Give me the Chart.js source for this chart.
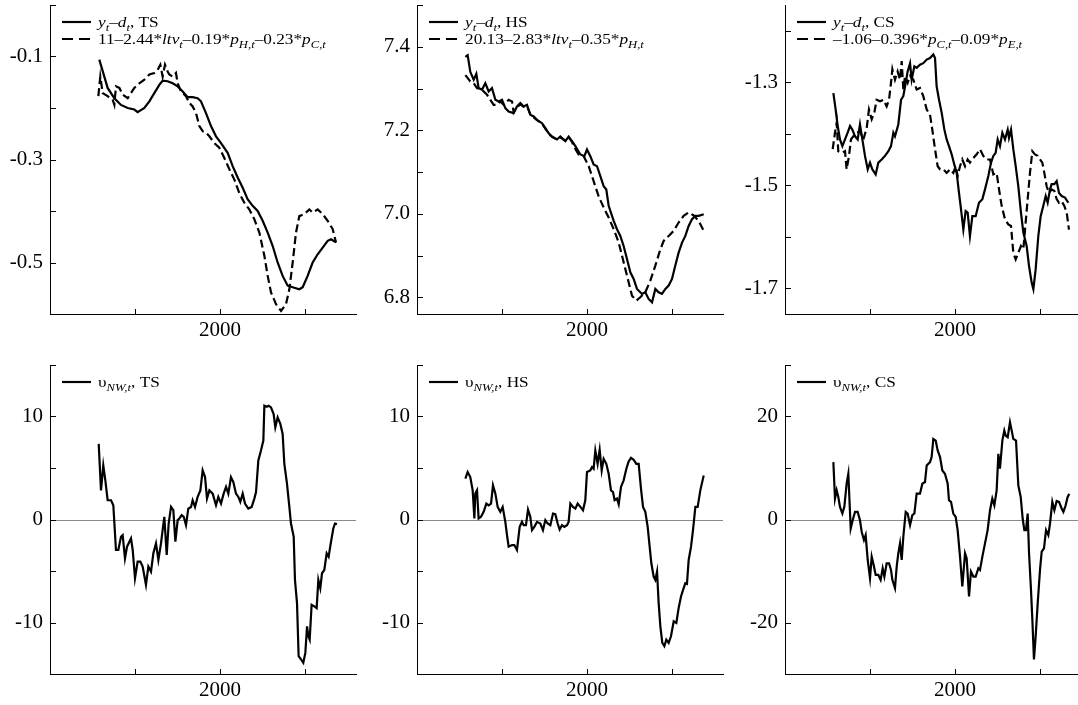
<!DOCTYPE html>
<html><head><meta charset="utf-8">
<script src="https://cdn.jsdelivr.net/npm/chart.js@4.4.1/dist/chart.umd.min.js"></script>
<style>
html,body{margin:0;padding:0;background:#fff;overflow:hidden;width:1078px;height:705px;position:relative;}
.panel{position:absolute;width:358px;height:354px;}
</style></head><body>
<div class="panel" style="left:0px;top:0px"><canvas id="c0"></canvas></div>
<div class="panel" style="left:367px;top:0px"><canvas id="c1"></canvas></div>
<div class="panel" style="left:735px;top:0px"><canvas id="c2"></canvas></div>
<div class="panel" style="left:0px;top:360px"><canvas id="c3"></canvas></div>
<div class="panel" style="left:367px;top:360px"><canvas id="c4"></canvas></div>
<div class="panel" style="left:735px;top:360px"><canvas id="c5"></canvas></div>
<script>
// ---------- x axis ----------
const xTickValues = [1990, 2000, 2010];
const xTickLabels = ['2000'];

// ---------- TS: y-d and fitted ----------
const tsActualYears = [1985.80,1986.39,1986.78,1987.57,1988.35,1989.14,1989.92,1990.31,1991.10,1991.69,1992.27,1992.86,1993.25,1993.84,1994.43,1995.02,1995.61,1996.20,1996.78,1997.37,1997.76,1998.35,1998.94,1999.53,2000.12,2000.90,2001.49,2002.08,2002.67,2003.25,2003.84,2004.43,2005.02,2005.61,2006.20,2006.78,2007.37,2007.96,2008.55,2009.33,2009.73,2010.31,2010.90,2011.49,2012.08,2012.67,2013.06,2013.65];
const tsActual = [-0.106,-0.139,-0.161,-0.181,-0.194,-0.200,-0.203,-0.208,-0.200,-0.187,-0.171,-0.155,-0.147,-0.148,-0.152,-0.158,-0.168,-0.179,-0.179,-0.181,-0.187,-0.210,-0.235,-0.255,-0.268,-0.287,-0.313,-0.335,-0.355,-0.377,-0.390,-0.400,-0.419,-0.442,-0.468,-0.500,-0.526,-0.545,-0.548,-0.552,-0.548,-0.526,-0.500,-0.484,-0.471,-0.458,-0.455,-0.461];
const tsFitYears = [1985.69,1985.80,1985.92,1986.20,1986.78,1987.37,1987.57,1987.76,1988.16,1988.55,1989.14,1989.53,1989.92,1990.51,1991.10,1991.69,1992.27,1992.67,1992.98,1993.25,1993.53,1993.84,1994.04,1994.43,1994.82,1995.02,1995.41,1996.00,1996.39,1996.78,1997.18,1997.57,1997.96,1998.35,1998.75,1999.33,1999.92,2000.51,2001.10,2001.69,2002.27,2002.86,2003.45,2004.04,2004.63,2005.22,2005.61,2006.00,2006.59,2007.18,2007.76,2008.16,2008.55,2008.94,2009.33,2009.92,2010.51,2010.90,2011.49,2012.08,2012.67,2013.25,2013.65];
const tsFit = [-0.177,-0.158,-0.139,-0.171,-0.177,-0.184,-0.194,-0.158,-0.161,-0.174,-0.181,-0.171,-0.161,-0.152,-0.145,-0.135,-0.132,-0.126,-0.116,-0.139,-0.116,-0.129,-0.135,-0.139,-0.132,-0.152,-0.168,-0.177,-0.190,-0.197,-0.210,-0.235,-0.245,-0.248,-0.255,-0.268,-0.277,-0.297,-0.319,-0.339,-0.365,-0.384,-0.397,-0.416,-0.442,-0.487,-0.526,-0.558,-0.581,-0.594,-0.581,-0.552,-0.500,-0.442,-0.410,-0.406,-0.397,-0.403,-0.397,-0.406,-0.419,-0.435,-0.461];

// ---------- HS ----------
const hsActualYears = [1985.69,1985.96,1986.27,1986.67,1986.98,1987.25,1987.65,1988.04,1988.43,1988.82,1989.22,1989.61,1990.00,1990.39,1990.78,1991.37,1991.76,1992.16,1992.55,1992.94,1993.33,1993.73,1994.12,1994.71,1995.10,1995.49,1995.88,1996.47,1996.86,1997.45,1997.84,1998.24,1998.63,1999.22,1999.69,2000.00,2000.39,2000.78,2001.18,2001.57,2001.96,2002.27,2002.55,2003.14,2003.53,2003.92,2004.31,2004.71,2005.10,2005.49,2005.88,2006.47,2006.86,2007.25,2007.65,2008.04,2008.43,2008.82,2009.22,2009.61,2010.00,2010.39,2010.78,2011.18,2011.57,2011.96,2012.35,2012.75,2013.14,2013.73];
const hsActual = [7.376,7.380,7.340,7.321,7.335,7.301,7.297,7.313,7.293,7.301,7.273,7.269,7.273,7.253,7.245,7.241,7.257,7.265,7.257,7.261,7.237,7.233,7.225,7.217,7.205,7.193,7.185,7.178,7.185,7.174,7.185,7.174,7.162,7.142,7.138,7.154,7.138,7.118,7.114,7.090,7.066,7.058,7.019,6.983,6.963,6.947,6.923,6.891,6.860,6.844,6.820,6.808,6.812,6.796,6.788,6.820,6.812,6.808,6.820,6.828,6.844,6.876,6.907,6.931,6.947,6.971,6.987,6.995,6.995,6.999];
const hsFitYears = [1985.69,1986.27,1986.67,1987.06,1987.65,1988.24,1988.63,1989.02,1989.41,1989.80,1990.20,1990.78,1991.18,1991.37,1991.76,1992.16,1992.55,1992.94,1993.33,1993.73,1994.12,1994.71,1995.10,1995.49,1995.88,1996.47,1996.86,1997.45,1997.84,1998.24,1998.43,1999.02,1999.61,2000.20,2000.78,2001.37,2001.96,2002.55,2003.14,2003.73,2004.31,2004.90,2005.29,2005.80,2006.27,2006.86,2007.45,2008.04,2008.63,2009.02,2009.61,2010.20,2010.78,2011.37,2011.96,2012.55,2013.14,2013.73];
const hsFit = [7.332,7.317,7.313,7.301,7.297,7.285,7.273,7.261,7.261,7.269,7.261,7.273,7.269,7.243,7.255,7.262,7.256,7.258,7.238,7.231,7.224,7.216,7.204,7.192,7.184,7.178,7.183,7.175,7.183,7.172,7.162,7.142,7.138,7.114,7.078,7.042,7.015,6.991,6.963,6.931,6.884,6.836,6.804,6.792,6.800,6.812,6.840,6.876,6.915,6.935,6.947,6.959,6.979,6.995,7.003,6.996,6.983,6.959];

// ---------- CS ----------
const csActualYears = [1985.69,1985.96,1986.20,1986.47,1986.75,1987.06,1987.37,1987.65,1987.92,1988.24,1988.55,1988.82,1989.10,1989.41,1989.73,1990.00,1990.27,1990.67,1990.98,1991.37,1991.76,1992.16,1992.47,1992.75,1992.94,1993.33,1993.65,1993.92,1994.20,1994.43,1994.71,1994.90,1995.22,1995.49,1995.88,1996.27,1996.67,1997.06,1997.45,1997.65,1997.84,1998.12,1998.43,1998.75,1999.02,1999.29,1999.61,1999.92,2000.20,2000.47,2000.71,2000.98,2001.25,2001.49,2001.76,2002.04,2002.43,2002.82,2003.22,2003.53,2003.92,2004.24,2004.51,2004.78,2005.02,2005.29,2005.57,2005.88,2006.20,2006.35,2006.59,2006.86,2007.14,2007.45,2007.76,2008.04,2008.43,2008.71,2009.02,2009.22,2009.49,2009.80,2010.08,2010.39,2010.67,2010.90,2011.18,2011.37,2011.69,2011.96,2012.24,2012.55,2012.94,2013.33];
const csActual = [-1.321,-1.353,-1.385,-1.411,-1.424,-1.411,-1.398,-1.385,-1.392,-1.405,-1.411,-1.382,-1.411,-1.443,-1.469,-1.456,-1.469,-1.479,-1.456,-1.450,-1.443,-1.434,-1.424,-1.398,-1.405,-1.382,-1.334,-1.327,-1.301,-1.279,-1.263,-1.295,-1.269,-1.272,-1.266,-1.263,-1.256,-1.253,-1.246,-1.253,-1.308,-1.334,-1.359,-1.392,-1.411,-1.424,-1.440,-1.460,-1.476,-1.515,-1.547,-1.586,-1.550,-1.553,-1.599,-1.560,-1.560,-1.534,-1.527,-1.508,-1.482,-1.456,-1.443,-1.437,-1.411,-1.424,-1.398,-1.411,-1.392,-1.408,-1.392,-1.430,-1.463,-1.502,-1.553,-1.592,-1.618,-1.657,-1.689,-1.702,-1.663,-1.599,-1.560,-1.540,-1.521,-1.534,-1.508,-1.498,-1.498,-1.492,-1.515,-1.521,-1.524,-1.534];
const csFitYears = [1985.61,1985.88,1986.08,1986.27,1986.67,1987.06,1987.25,1987.53,1987.76,1988.04,1988.43,1988.82,1989.22,1989.61,1989.88,1990.20,1990.51,1990.78,1991.18,1991.57,1991.96,1992.24,1992.47,1992.63,1992.94,1993.25,1993.53,1993.73,1993.92,1994.12,1994.43,1994.71,1995.10,1995.49,1995.88,1996.27,1996.67,1997.06,1997.33,1997.65,1997.96,1998.24,1998.63,1999.02,1999.41,1999.80,2000.08,2000.31,2000.59,2000.86,2001.18,2001.49,2001.76,2002.16,2002.55,2002.94,2003.33,2003.73,2004.12,2004.51,2004.90,2005.18,2005.49,2005.88,2006.27,2006.59,2006.86,2007.14,2007.45,2007.76,2008.04,2008.24,2008.55,2008.82,2009.10,2009.41,2009.73,2010.00,2010.27,2010.51,2010.78,2011.06,2011.37,2011.69,2011.96,2012.24,2012.55,2012.86,2013.14,2013.41];
const csFit = [-1.430,-1.398,-1.379,-1.434,-1.437,-1.434,-1.469,-1.443,-1.411,-1.405,-1.398,-1.395,-1.411,-1.389,-1.353,-1.372,-1.359,-1.334,-1.337,-1.334,-1.347,-1.334,-1.301,-1.275,-1.295,-1.279,-1.295,-1.259,-1.314,-1.288,-1.301,-1.288,-1.295,-1.314,-1.311,-1.327,-1.353,-1.363,-1.392,-1.430,-1.463,-1.469,-1.469,-1.476,-1.469,-1.476,-1.463,-1.482,-1.463,-1.450,-1.463,-1.450,-1.456,-1.447,-1.440,-1.430,-1.443,-1.450,-1.450,-1.479,-1.476,-1.508,-1.540,-1.566,-1.576,-1.579,-1.631,-1.644,-1.631,-1.618,-1.624,-1.586,-1.527,-1.476,-1.434,-1.440,-1.443,-1.450,-1.456,-1.476,-1.502,-1.515,-1.508,-1.511,-1.527,-1.534,-1.531,-1.540,-1.553,-1.586];

// ---------- NW deviations ----------
const tsNWYears = [1985.73,1986.00,1986.27,1986.51,1986.78,1987.18,1987.45,1987.76,1988.04,1988.35,1988.55,1988.82,1989.06,1989.53,1989.73,1990.00,1990.31,1990.63,1990.90,1991.29,1991.57,1991.88,1992.16,1992.47,1992.75,1993.06,1993.25,1993.45,1993.73,1993.96,1994.24,1994.51,1994.75,1995.02,1995.22,1995.49,1995.73,1996.00,1996.27,1996.59,1996.78,1997.06,1997.37,1997.69,1997.96,1998.24,1998.47,1998.75,1999.14,1999.53,1999.80,2000.12,2000.43,2000.71,2000.98,2001.29,2001.57,2001.88,2002.16,2002.39,2002.67,2002.94,2003.33,2003.73,2004.04,2004.24,2004.51,2004.82,2005.10,2005.22,2005.49,2005.73,2006.00,2006.31,2006.51,2006.78,2007.10,2007.37,2007.57,2007.88,2008.16,2008.35,2008.67,2008.82,2009.06,2009.25,2009.53,2009.80,2010.04,2010.24,2010.39,2010.55,2010.78,2011.10,2011.37,2011.57,2011.80,2012.00,2012.27,2012.55,2012.78,2013.06,2013.33,2013.53,2013.76];
const tsNW = [7.34,2.83,5.25,3.80,1.87,1.87,1.38,-2.96,-2.96,-1.67,-1.51,-3.77,-2.64,-1.84,-2.96,-5.70,-4.09,-4.09,-4.57,-6.34,-4.57,-5.06,-3.28,-2.32,-3.93,-2.32,-1.03,0.26,-3.45,-0.39,1.22,0.90,-2.16,-0.06,0.10,0.42,0.26,-0.55,1.06,1.22,1.87,1.22,2.19,2.83,4.77,4.12,2.03,2.83,2.51,1.38,2.19,1.55,2.51,3.16,2.51,4.12,3.64,2.51,2.19,1.71,2.51,1.55,1.06,1.22,2.03,2.67,5.73,6.70,7.67,11.05,10.95,11.05,10.88,10.24,8.95,9.92,9.28,8.31,5.41,3.48,1.22,-0.39,-1.67,-5.86,-8.12,-13.27,-13.59,-13.91,-12.95,-10.37,-11.30,-11.66,-8.28,-8.44,-8.60,-5.86,-6.67,-5.22,-4.90,-3.28,-3.61,-2.16,-0.87,-0.39,-0.45];
const hsNWYears = [1985.69,1985.96,1986.27,1986.55,1986.75,1986.86,1987.06,1987.25,1987.53,1987.84,1988.16,1988.43,1988.71,1988.94,1989.22,1989.49,1989.80,1990.08,1990.39,1990.59,1990.78,1991.18,1991.45,1991.76,1992.08,1992.35,1992.55,1992.82,1993.06,1993.33,1993.53,1993.80,1994.12,1994.51,1994.82,1995.10,1995.37,1995.69,1996.00,1996.27,1996.55,1996.78,1997.06,1997.33,1997.65,1997.84,1998.04,1998.35,1998.63,1998.90,1999.22,1999.53,1999.80,2000.00,2000.39,2000.59,2000.78,2000.98,2001.25,2001.49,2001.73,2001.96,2002.27,2002.55,2002.82,2003.06,2003.25,2003.53,2003.73,2004.00,2004.31,2004.63,2004.90,2005.18,2005.49,2005.80,2006.08,2006.35,2006.59,2006.86,2007.14,2007.37,2007.57,2007.84,2008.04,2008.24,2008.43,2008.63,2008.86,2009.10,2009.33,2009.61,2009.88,2010.20,2010.51,2010.78,2011.06,2011.37,2011.57,2011.76,2011.96,2012.24,2012.47,2012.75,2013.02,2013.33,2013.73];
const hsNW = [3.96,4.61,4.12,2.83,0.10,2.51,2.83,0.10,0.26,0.74,1.55,1.38,1.55,3.32,2.51,1.22,0.74,1.22,-0.23,-1.51,-2.64,-2.48,-2.48,-2.96,-0.71,-0.23,-0.55,-0.55,0.97,0.26,-1.03,-0.71,-0.23,-0.39,-1.03,-0.06,-0.39,-0.55,0.58,0.52,-0.39,-0.97,-0.55,-0.71,-0.55,-0.23,1.55,1.22,1.06,1.55,1.22,0.90,1.87,4.61,4.77,5.09,4.93,6.70,5.41,6.76,4.77,5.89,5.41,4.44,2.83,2.67,1.87,2.03,1.48,3.16,3.80,4.93,5.64,5.99,5.80,5.41,5.41,3.00,1.22,0.74,-0.71,-2.64,-4.25,-5.54,-5.86,-5.06,-8.12,-10.37,-11.98,-12.30,-11.66,-11.98,-11.34,-9.89,-10.05,-8.60,-7.47,-6.67,-6.18,-6.25,-3.93,-2.64,-1.03,1.22,1.22,2.83,4.28];
const csNWYears = [1985.69,1985.88,1986.08,1986.27,1986.47,1986.75,1986.98,1987.25,1987.45,1987.73,1987.96,1988.24,1988.55,1988.82,1989.02,1989.29,1989.49,1989.73,1990.00,1990.20,1990.43,1990.67,1990.98,1991.25,1991.49,1991.69,1991.96,1992.24,1992.47,1992.63,1992.94,1993.14,1993.33,1993.53,1993.73,1993.92,1994.20,1994.43,1994.71,1994.98,1995.22,1995.49,1995.88,1996.16,1996.47,1996.67,1997.06,1997.25,1997.45,1997.73,1997.96,1998.24,1998.51,1998.82,1999.14,1999.29,1999.53,1999.80,2000.08,2000.31,2000.59,2000.86,2001.18,2001.37,2001.65,2001.88,2002.16,2002.43,2002.75,2002.94,2003.22,2003.53,2003.84,2004.12,2004.39,2004.63,2004.90,2005.10,2005.29,2005.57,2005.80,2005.96,2006.20,2006.47,2006.67,2006.86,2007.18,2007.45,2007.73,2007.96,2008.16,2008.35,2008.55,2008.71,2008.94,2009.10,2009.29,2009.49,2009.73,2010.00,2010.20,2010.47,2010.71,2010.98,2011.18,2011.45,2011.69,2011.96,2012.24,2012.55,2012.75,2013.02,2013.25,2013.45];
const csNW = [11.14,4.06,5.67,4.38,2.45,1.16,2.45,6.96,8.89,-1.74,-0.13,1.48,1.48,-0.13,-2.38,-3.99,-3.03,-7.86,-11.40,-7.21,-8.82,-10.76,-10.76,-11.72,-9.47,-11.08,-8.50,-8.50,-9.79,-11.72,-13.33,-9.15,-6.57,-4.64,-7.86,-3.35,1.48,1.16,-1.10,0.84,1.16,5.02,5.02,6.96,7.28,10.50,11.14,12.11,15.65,15.33,13.40,12.11,9.53,8.89,6.96,3.74,3.42,1.16,0.52,-2.06,-7.21,-13.01,-6.57,-7.54,-14.94,-10.11,-11.08,-11.08,-9.47,-9.79,-7.21,-4.64,-2.06,1.80,4.06,2.77,5.67,12.75,9.86,15.33,17.26,16.30,15.97,18.87,17.26,15.65,15.33,6.63,4.38,0.19,-2.06,-2.06,1.16,-6.57,-13.66,-19.45,-27.18,-22.67,-16.23,-9.79,-6.25,-5.60,-2.06,-3.03,-0.77,3.41,1.80,3.61,3.41,2.13,1.48,2.77,4.38,5.02];

// ---------- y ticks ----------
const tsTickValues = [-0.6,-0.5,-0.4,-0.3,-0.2,-0.1,0.0];
const tsTickLabels = ['-0.5','-0.3','-0.1'];
const hsTickValues = [6.8,6.9,7.0,7.1,7.2,7.3,7.4,7.5];
const hsTickLabels = ['6.8','7.0','7.2','7.4'];
const csTickValues = [-1.7,-1.6,-1.5,-1.4,-1.3,-1.2];
const csTickLabels = ['-1.7','-1.5','-1.3'];
const nwTickValues = [-15,-10,-5,0,5,10,15];
const nwTickLabels = ['-10','0','10'];
const csNWTickValues = [-30,-20,-10,0,10,20,30];
const csNWTickLabels = ['-20','0','20'];

// ---------- legend texts ----------
const tsLegend = ['{y}_{t}–{d}_{t}, TS', '11–2.44*{ltv}_{t}–0.19*{p}_{H,t}–0.23*{p}_{C,t}'];
const hsLegend = ['{y}_{t}–{d}_{t}, HS', '20.13–2.83*{ltv}_{t}–0.35*{p}_{H,t}'];
const csLegend = ['{y}_{t}–{d}_{t}, CS', '–1.06–0.396*{p}_{C,t}–0.09*{p}_{E,t}'];
const tsNWLegend = ['υ_{NW,t}, TS'];
const hsNWLegend = ['υ_{NW,t}, HS'];
const csNWLegend = ['υ_{NW,t}, CS'];

const SERIF = '"Liberation Serif", "Times New Roman", serif';

function drawRich(ctx, text, x, y, sx) {
  const re = /_\{([^}]*)\}|\{([^}]*)\}|([^_{]+)/g;
  ctx.save();
  ctx.translate(x, y);
  ctx.scale(sx, 1);
  ctx.fillStyle = '#000';
  ctx.textBaseline = 'alphabetic';
  ctx.textAlign = 'left';
  let cx = 0, m;
  while ((m = re.exec(text))) {
    let s, dy = 0;
    if (m[1] !== undefined) { s = m[1]; ctx.font = 'italic 11px ' + SERIF; dy = 4; }
    else if (m[2] !== undefined) { s = m[2]; ctx.font = 'italic 15px ' + SERIF; }
    else { s = m[3]; ctx.font = '15px ' + SERIF; }
    ctx.fillText(s, cx, dy);
    cx += ctx.measureText(s).width;
  }
  ctx.restore();
}

const decor = {
  id: 'decor',
  beforeDatasetsDraw(chart, args, o) {
    if (!o.zeroLine) return;
    const ctx = chart.ctx, a = chart.chartArea;
    const yy = Math.round(chart.scales.y.getPixelForValue(0)) + 0.5;
    ctx.save();
    ctx.strokeStyle = '#8a8a8a';
    ctx.lineWidth = 1;
    ctx.beginPath(); ctx.moveTo(a.left, yy); ctx.lineTo(a.right, yy); ctx.stroke();
    ctx.restore();
  },
  afterDraw(chart, args, o) {
    const ctx = chart.ctx, a = chart.chartArea, xs = chart.scales.x, ys = chart.scales.y;
    ctx.save();
    ctx.strokeStyle = '#000';
    ctx.lineWidth = 1;
    ctx.beginPath();
    ys.ticks.forEach(t => {
      const p = Math.round(ys.getPixelForValue(t.value)) + 0.5;
      ctx.moveTo(a.left, p); ctx.lineTo(a.left + 6, p);
    });
    xs.ticks.forEach(t => {
      const p = Math.round(xs.getPixelForValue(t.value)) + 0.5;
      ctx.moveTo(p, a.bottom); ctx.lineTo(p, a.bottom - 5);
    });
    ctx.stroke();
    ctx.restore();
    // legend
    (o.items || []).forEach((it, i) => {
      const y = a.top + 17 + i * 17;
      ctx.save();
      ctx.strokeStyle = '#000';
      ctx.lineWidth = 2.2;
      ctx.setLineDash(it.dash ? [11, 6] : []);
      ctx.beginPath(); ctx.moveTo(a.left + 12, y); ctx.lineTo(a.left + 41, y); ctx.stroke();
      ctx.restore();
      drawRich(ctx, it.text, a.left + 48, y + 5, 1.15);
    });
  }
};

function series(years, vals, dashed) {
  return {
    data: years.map((x, i) => ({ x: x, y: vals[i] })),
    borderColor: '#000',
    borderWidth: 2.2,
    borderDash: dashed ? [8, 4] : [],
    pointRadius: 0,
    fill: false,
    tension: 0
  };
}

function zeroPad(s) { s.paddingTop = 0; s.paddingBottom = 0; s.paddingLeft = 0; s.paddingRight = 0; }

function makeChart(id, datasets, yMin, yMax, tickVals, tickLabels, legendTexts, zeroLine) {
  const items = legendTexts.map((t, i) => ({ text: t, dash: i === 1 }));
  new Chart(document.getElementById(id), {
    type: 'line',
    data: { datasets: datasets },
    plugins: [decor],
    options: {
      responsive: true,
      maintainAspectRatio: false,
      animation: false,
      events: [],
      layout: { padding: { top: 5, right: 2, left: 0, bottom: 0 } },
      plugins: {
        legend: { display: false },
        tooltip: { enabled: false },
        decor: { items: items, zeroLine: zeroLine }
      },
      scales: {
        x: {
          type: 'linear', min: 1980, max: 2016, bounds: 'data',
          grid: { display: false, drawTicks: false },
          border: { display: true, color: '#000', width: 1 },
          afterBuildTicks: s => { s.ticks = xTickValues.map(v => ({ value: v })); },
          afterFit: s => { s.height = 40; zeroPad(s); },
          ticks: {
            autoSkip: false, maxRotation: 0, padding: 4, color: '#000',
            font: { family: SERIF, size: 21 },
            callback: v => { const m = xTickLabels.find(l => Math.abs(parseFloat(l) - v) < 1e-6); return m === undefined ? '' : m; }
          }
        },
        y: {
          type: 'linear', min: yMin, max: yMax, bounds: 'data',
          grid: { display: false, drawTicks: false },
          border: { display: true, color: '#000', width: 1 },
          afterBuildTicks: s => { s.ticks = tickVals.map(v => ({ value: v })); },
          afterFit: s => { s.width = 50; zeroPad(s); },
          ticks: {
            autoSkip: false, padding: 7, color: '#000',
            font: { family: SERIF, size: 21 },
            callback: v => { const m = tickLabels.find(l => Math.abs(parseFloat(l) - v) < 1e-6); return m === undefined ? '' : m; }
          }
        }
      }
    }
  });
}

makeChart('c0', [series(tsActualYears, tsActual, false), series(tsFitYears, tsFit, true)], -0.6, 0.0, tsTickValues, tsTickLabels, tsLegend, false);
makeChart('c1', [series(hsActualYears, hsActual, false), series(hsFitYears, hsFit, true)], 6.76, 7.5, hsTickValues, hsTickLabels, hsLegend, false);
makeChart('c2', [series(csActualYears, csActual, false), series(csFitYears, csFit, true)], -1.75, -1.15, csTickValues, csTickLabels, csLegend, false);
makeChart('c3', [series(tsNWYears, tsNW, false)], -15, 15, nwTickValues, nwTickLabels, tsNWLegend, true);
makeChart('c4', [series(hsNWYears, hsNW, false)], -15, 15, nwTickValues, nwTickLabels, hsNWLegend, true);
makeChart('c5', [series(csNWYears, csNW, false)], -30, 30, csNWTickValues, csNWTickLabels, csNWLegend, true);
</script>
</body></html>
